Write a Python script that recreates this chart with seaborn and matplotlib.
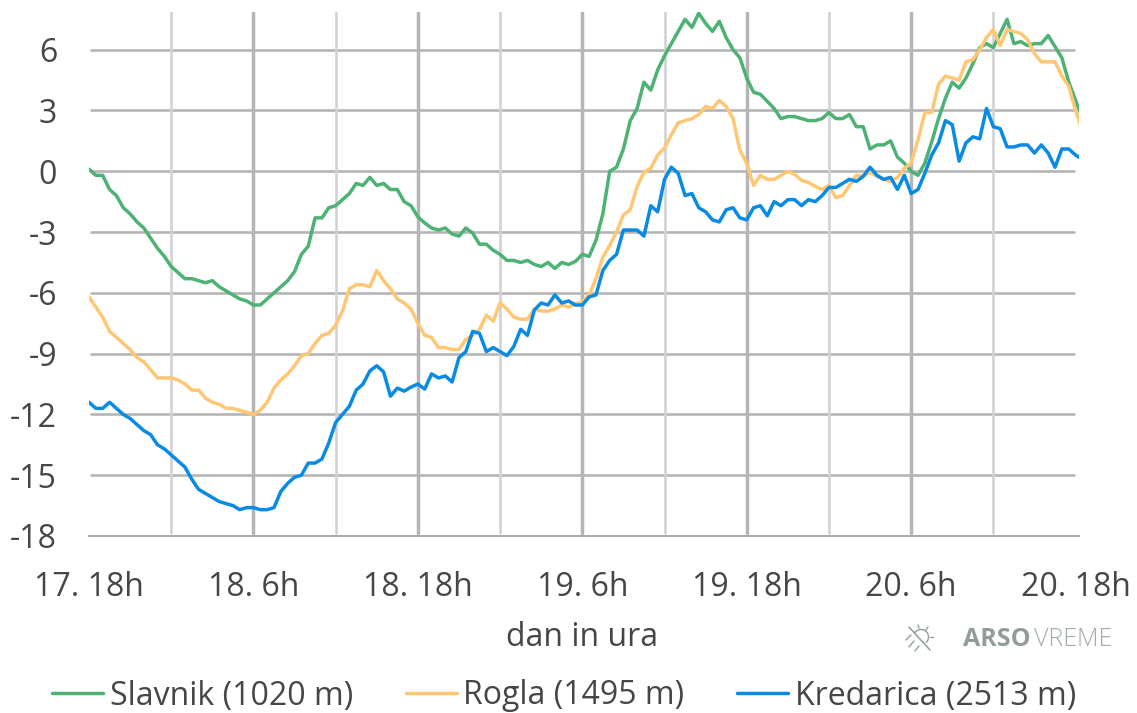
import numpy as np
import pandas as pd
import matplotlib
matplotlib.use("Agg")
import matplotlib.pyplot as plt
from matplotlib.lines import Line2D
from matplotlib.patches import Arc
import seaborn as sns

# half-hourly temperatures
slavnik = [0.1, -0.2, -0.2, -0.9, -1.2, -1.8, -2.1, -2.5, -2.8, -3.3, -3.8, -4.2,
           -4.7, -5.0, -5.3, -5.3, -5.4, -5.5, -5.4, -5.7, -5.9, -6.1, -6.3, -6.4,
           -6.6, -6.6, -6.3, -6.0, -5.7, -5.4, -4.95, -4.1, -3.7, -2.3, -2.3, -1.8,
           -1.7, -1.4, -1.1, -0.6, -0.7, -0.3, -0.7, -0.6, -0.9, -0.9, -1.5, -1.7,
           -2.25, -2.55, -2.8, -2.9, -2.8, -3.1, -3.2, -2.8, -3.05, -3.6, -3.6, -3.9,
           -4.1, -4.4, -4.4, -4.5, -4.4, -4.6, -4.7, -4.5, -4.8, -4.5, -4.6, -4.45,
           -4.1, -4.2, -3.4, -2.1, 0.0, 0.2, 1.1, 2.5, 3.1, 4.4, 4.0, 5.0,
           5.7, 6.3, 6.9, 7.5, 7.1, 7.8, 7.3, 6.9, 7.4, 6.6, 6.0, 5.6,
           4.6, 3.9, 3.8, 3.45, 3.1, 2.6, 2.7, 2.7, 2.6, 2.5, 2.5, 2.6,
           2.9, 2.6, 2.6, 2.8, 2.2, 2.2, 1.1, 1.3, 1.3, 1.5, 0.7, 0.4,
           0.0, -0.2, 0.4, 1.45, 2.6, 3.6, 4.4, 4.1, 4.6, 5.3, 6.1, 6.3,
           6.1, 6.8, 7.5, 6.3, 6.4, 6.2, 6.3, 6.3, 6.7, 6.15, 5.6, 4.4,
           3.5, 2.6]
rogla = [-6.2, -6.7, -7.2, -7.9, -8.2, -8.5, -8.8, -9.2, -9.4, -9.8, -10.2, -10.2,
         -10.2, -10.3, -10.5, -10.8, -10.8, -11.2, -11.4, -11.5, -11.7, -11.7, -11.8, -11.9,
         -12.0, -11.8, -11.4, -10.7, -10.3, -10.0, -9.6, -9.1, -9.0, -8.5, -8.1, -8.0,
         -7.6, -6.9, -5.8, -5.6, -5.6, -5.7, -4.9, -5.4, -5.8, -6.3, -6.5, -6.8,
         -7.5, -8.1, -8.2, -8.7, -8.7, -8.8, -8.8, -8.3, -8.1, -7.8, -7.1, -7.4,
         -6.5, -6.8, -7.2, -7.3, -7.3, -6.8, -6.9, -6.9, -6.8, -6.6, -6.7, -6.55,
         -6.45, -6.1, -5.3, -4.25, -3.65, -3.0, -2.15, -1.9, -0.75, -0.05, 0.15, 0.8,
         1.15, 1.8, 2.4, 2.5, 2.6, 2.8, 3.2, 3.1, 3.5, 3.2, 2.6, 1.05,
         0.4, -0.7, -0.2, -0.4, -0.4, -0.2, 0.0, -0.15, -0.45, -0.55, -0.75, -0.9,
         -0.7, -1.3, -1.2, -0.7, -0.2, -0.25, -0.05, -0.25, -0.4, -0.5, -0.3, 0.15,
         0.4, 1.55, 2.9, 2.9, 4.3, 4.7, 4.6, 4.5, 5.4, 5.5, 6.0, 6.6,
         7.0, 6.2, 7.0, 6.9, 6.8, 6.5, 5.8, 5.4, 5.4, 5.4, 4.7, 4.2,
         3.0, 2.0]
kredarica = [-11.4, -11.7, -11.7, -11.4, -11.7, -12.0, -12.2, -12.5, -12.8, -13.0, -13.5, -13.7,
             -14.0, -14.3, -14.6, -15.2, -15.7, -15.9, -16.1, -16.3, -16.4, -16.5, -16.7, -16.6,
             -16.6, -16.7, -16.7, -16.6, -15.8, -15.4, -15.1, -15.0, -14.4, -14.4, -14.2, -13.4,
             -12.4, -12.0, -11.6, -10.8, -10.5, -9.85, -9.6, -9.9, -11.1, -10.7, -10.85, -10.65,
             -10.5, -10.75, -10.0, -10.2, -10.1, -10.4, -9.2, -8.9, -7.9, -8.0, -8.9, -8.7,
             -8.9, -9.1, -8.65, -7.8, -8.1, -6.85, -6.5, -6.6, -6.1, -6.5, -6.4, -6.6,
             -6.6, -6.2, -6.1, -4.9, -4.4, -4.1, -2.9, -2.9, -2.9, -3.2, -1.7, -2.0,
             -0.4, 0.2, -0.1, -1.2, -1.1, -1.8, -2.0, -2.4, -2.5, -1.9, -1.8, -2.3,
             -2.4, -1.8, -1.7, -2.2, -1.5, -1.7, -1.4, -1.4, -1.7, -1.4, -1.5, -1.2,
             -0.8, -0.8, -0.6, -0.4, -0.5, -0.25, 0.2, -0.2, -0.4, -0.3, -0.9, -0.2,
             -1.1, -0.9, -0.1, 0.8, 1.4, 2.5, 2.3, 0.5, 1.4, 1.7, 1.6, 3.1,
             2.2, 2.1, 1.2, 1.2, 1.3, 1.3, 0.9, 1.3, 0.9, 0.2, 1.1, 1.1,
             0.8, 0.6]

names = ["Slavnik (1020 m)", "Rogla (1495 m)", "Kredarica (2513 m)"]
colors = ["#4DB273", "#FFC673", "#0A8BE3"]
y_ticks = [-18, -15, -12, -9, -6, -3, 0, 3, 6]
major_labels = ["17. 18h", "18. 6h", "18. 18h", "19. 6h", "19. 18h", "20. 6h", "20. 18h"]

TEXT = "#464646"
FS = 23

# long table for seaborn
df = pd.DataFrame({"Slavnik (1020 m)": slavnik, "Rogla (1495 m)": rogla, "Kredarica (2513 m)": kredarica})
df["x"] = np.arange(len(df))
long_df = df.melt(id_vars="x", var_name="postaja", value_name="temp")

sns.set_theme(style="white")
plt.rcParams["font.family"] = ["Open Sans", "DejaVu Sans"]

fig = plt.figure(figsize=(11.37, 7.13), dpi=100)
W, H = 1137, 713
ax = fig.add_axes([89 / W, 1 - 536 / H, (1079 - 89) / W, (536 - 12) / H])

sns.lineplot(data=long_df, x="x", y="temp", hue="postaja", hue_order=names,
             palette=colors, linewidth=2.5, estimator=None, ax=ax, zorder=5)

ax.set_xlim(0, 144.5)
ax.set_ylim(-18, 7.86)

# grid by hand, it stops a bit short of the axes edges
for v in y_ticks[1:]:
    ax.axhline(v, xmin=0.002, xmax=0.995, color="#b5b5b5", linewidth=1.9, zorder=1)
for i, v in enumerate(range(12, 144, 12)):
    if i % 2 == 1:
        ax.axvline(v, ymin=0.006, color="#b5b5b5", linewidth=2.5, zorder=1)
    else:
        ax.axvline(v, ymin=0.006, color="#d2d2d2", linewidth=1.9, zorder=1)

for s in ["top", "left", "right"]:
    ax.spines[s].set_visible(False)
ax.spines["bottom"].set_color("#9a9a9a")
ax.spines["bottom"].set_linewidth(1.2)

ax.set_yticks(y_ticks)
ax.set_yticklabels([str(v) for v in y_ticks])
ax.set_xticks(np.arange(0, 145, 24))
ax.set_xticklabels(major_labels)
ax.tick_params(axis="both", length=0, labelsize=FS, labelcolor=TEXT)
ax.tick_params(axis="y", pad=23)
ax.tick_params(axis="x", pad=25)
ax.set_ylabel("")
ax.set_xlabel("")

fig.text(582 / W, 1 - 637 / H, "dan in ura", fontsize=FS, color=TEXT, ha="center", va="center")

# legend along the bottom
sns.move_legend(ax, "center", bbox_to_anchor=(564 / W, 1 - 696 / H), bbox_transform=fig.transFigure,
                ncol=3, frameon=False, title=None, fontsize=FS, handlelength=1.6,
                handletextpad=0.2, columnspacing=1.65, labelcolor=TEXT)

# logo
fig.text(963 / W, 1 - 640 / H, "ARSO", fontsize=18, fontweight="bold", color="#929c98", ha="left", va="center")
fig.text(1034 / W, 1 - 640 / H, "VREME", fontsize=18, fontweight="light", color="#a3aca9", ha="left", va="center")


def px_line(x0, y0, x1, y1, lw=1.0, color="#929c98"):
    fig.add_artist(Line2D([x0 / W, x1 / W], [1 - y0 / H, 1 - y1 / H], color=color, linewidth=lw,
                          transform=fig.transFigure))


# small sun with rain and a slash through it
px_line(909, 627, 930, 650, 1.1)
fig.add_artist(Arc((921 / W, 1 - 637 / H), 15 / W, 15 / H, angle=0, theta1=-60, theta2=140,
                   color="#929c98", linewidth=1.0, transform=fig.transFigure))
px_line(918, 625, 919, 628)
px_line(928, 627, 926, 630)
px_line(933, 637, 930, 637)
px_line(911, 635, 906, 640)
px_line(914, 641, 909, 647)
px_line(919, 646, 915, 651)

fig.savefig("out.png", dpi=100)
